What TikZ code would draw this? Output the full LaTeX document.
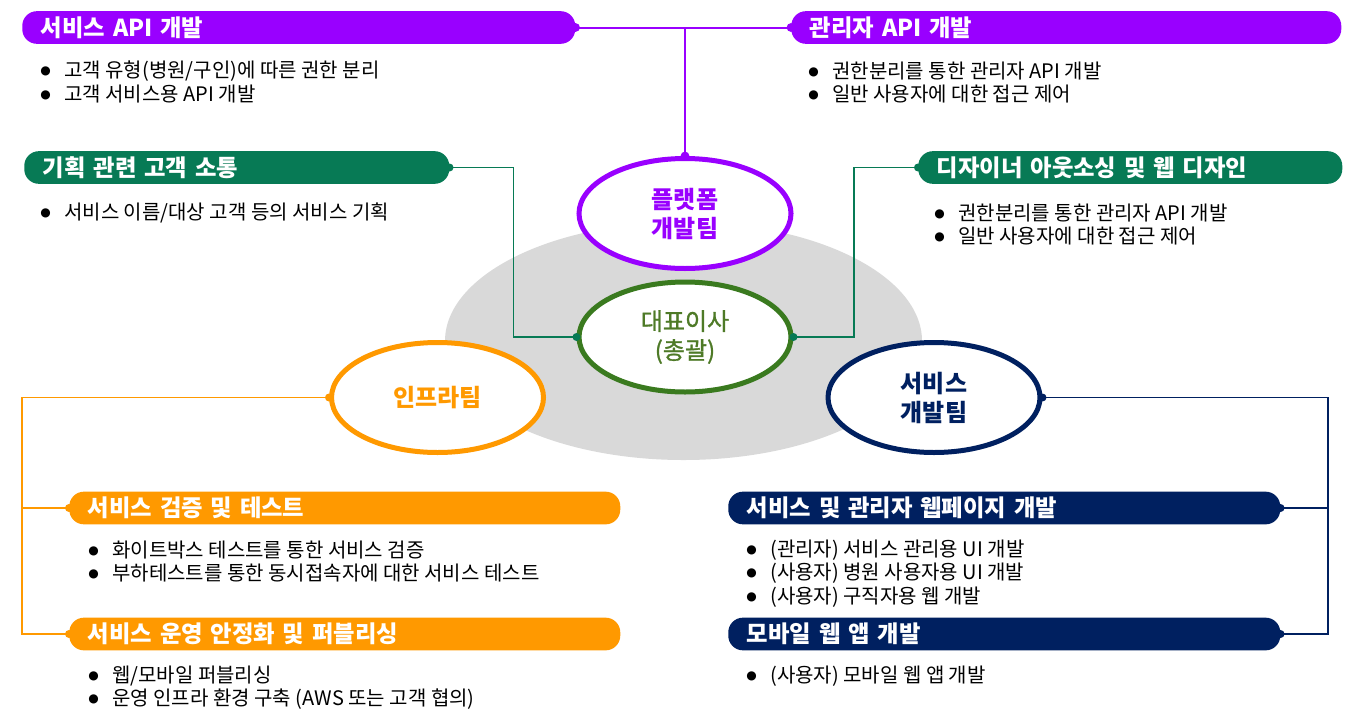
\documentclass[tikz,border=0pt]{standalone}
\usepackage{fontspec}
\setmainfont{Noto Sans CJK KR}
\newfontfamily\bulfont{DejaVu Sans}
\usetikzlibrary{shapes.geometric}
\definecolor{cpurple}{HTML}{9900FF}
\definecolor{cgreen}{HTML}{077A55}
\definecolor{colive}{HTML}{3A7A1F}
\definecolor{colivetext}{HTML}{4E7A27}
\definecolor{corange}{HTML}{FF9900}
\definecolor{cnavy}{HTML}{002060}
\definecolor{cgray}{HTML}{D9D9D9}
\newcommand\bul{\makebox[18pt][l]{\raisebox{2pt}{\bulfont\fontsize{9pt}{9pt}\selectfont ●}}}
\begin{document}
\begin{tikzpicture}[x=0.75pt,y=-0.75pt,
 tbox/.style={rectangle, rounded corners=11pt, minimum height=24.5pt, inner xsep=14pt, inner ysep=0pt, align=left, anchor=west, text=white, font=\fontsize{17.5pt}{19pt}\selectfont\bfseries},
 item/.style={anchor=west, inner sep=0pt, font=\fontsize{15pt}{17pt}\selectfont},
 team/.style={ellipse, draw, line width=3.75pt, fill=white, minimum width=159pt, minimum height=82.5pt, inner sep=0pt, align=center, font=\fontsize{18pt}{21.75pt}\selectfont\bfseries},
 conn/.style={line width=1pt}
]
\useasboundingbox (0,0) rectangle (1358,721);
\fill[white] (0,0) rectangle (1358,721);

% background ellipse
\node[fill=cgray, ellipse, minimum width=357.75pt, minimum height=178.5pt, inner sep=0pt] (bg) at (683.5,341) {};

% title boxes
\node[tbox, fill=cpurple, text width=386.75pt] (svcapi) at (22,27.5) {서비스 API 개발};
\node[tbox, fill=cpurple, text width=384.5pt] (mgrapi) at (791,27.5) {관리자 API 개발};
\node[tbox, fill=cgreen, text width=290.75pt] (plan) at (24,167.5) {기획 관련 고객 소통};
\node[tbox, fill=cgreen, text width=290pt] (design) at (918,167.5) {디자이너 아웃소싱 및 웹 디자인};
\node[tbox, fill=corange, text width=385.25pt] (test) at (69,508) {서비스 검증 및 테스트};
\node[tbox, fill=corange, text width=385.25pt] (ops) at (69,634) {서비스 운영 안정화 및 퍼블리싱};
\node[tbox, fill=cnavy, text width=386pt] (web) at (728,508) {서비스 및 관리자 웹페이지 개발};
\node[tbox, fill=cnavy, text width=386pt] (mob) at (728,634) {모바일 웹 앱 개발};

% team ellipses
\node[team, draw=cpurple, text=cpurple] (platform) at (685,213.5) {플랫폼\\개발팀};
\node[team, draw=colive, text=colivetext, font=\fontsize{18pt}{21.75pt}\selectfont\addfontfeature{FakeBold=1.2}] (ceo) at (685,337) {대표이사\\(총괄)};
\node[team, draw=corange, text=corange] (infra) at (437.5,397.5) {인프라팀};
\node[team, draw=cnavy, text=cnavy] (dev) at (934,397.5) {서비스\\개발팀};

% connectors
\draw[cpurple, line width=1.5pt] (svcapi.east) -- (mgrapi.west);
\draw[cpurple, line width=1.5pt] (platform.north) -- (platform.north |- svcapi.east);
\draw[cgreen, conn] (plan.east) -- ++(64,0) |- (ceo.west);
\draw[cgreen, conn] (design.west) -- ++(-64,0) |- (ceo.east);
\coordinate (oL) at (22,397.5);
\draw[corange, conn] (infra.west) -- (oL) |- (ops.west);
\draw[corange, conn] (oL) |- (test.west);
\coordinate (nR) at (1328,397.5);
\draw[cnavy, conn] (dev.east) -- (nR) |- (mob.east);
\draw[cnavy, conn] (nR) |- (web.east);

% dots
\fill[cpurple] (svcapi.east) circle[radius=3.3pt] (mgrapi.west) circle[radius=3.3pt] (platform.north) circle[radius=3.3pt];
\fill[cgreen] (plan.east) circle[radius=3pt] (design.west) circle[radius=3pt] (ceo.west) circle[radius=3pt] (ceo.east) circle[radius=3pt];
\fill[corange] (infra.west) circle[radius=3pt] (test.west) circle[radius=3pt] (ops.west) circle[radius=3pt];
\fill[cnavy] (dev.east) circle[radius=3pt] (web.east) circle[radius=3pt] (mob.east) circle[radius=3pt];

% bullet items
\node[item] (a1) at (40,71) {\bul 고객 유형(병원/구인)에 따른 권한 분리};
\node[item] (a2) at (40,94) {\bul 고객 서비스용 API 개발};
\node[item] (b1) at (808,71) {\bul 권한분리를 통한 관리자 API 개발};
\node[item] (b2) at (808,94) {\bul 일반 사용자에 대한 접근 제어};
\node[item] (c1) at (40,213) {\bul 서비스 이름/대상 고객 등의 서비스 기획};
\node[item] (d1) at (934,213) {\bul 권한분리를 통한 관리자 API 개발};
\node[item] (d2) at (934,236) {\bul 일반 사용자에 대한 접근 제어};
\node[item] (e1) at (88,550) {\bul 화이트박스 테스트를 통한 서비스 검증};
\node[item] (e2) at (88,573) {\bul 부하테스트를 통한 동시접속자에 대한 서비스 테스트};
\node[item] (f1) at (88,676) {\bul 웹/모바일 퍼블리싱};
\node[item] (f2) at (88,699) {\bul 운영 인프라 환경 구축 (AWS 또는 고객 협의)};
\node[item] (g1) at (746,550) {\bul (관리자) 서비스 관리용 UI 개발};
\node[item] (g2) at (746,573) {\bul (사용자) 병원 사용자용 UI 개발};
\node[item] (g3) at (746,597) {\bul (사용자) 구직자용 웹 개발};
\node[item] (h1) at (746,676) {\bul (사용자) 모바일 웹 앱 개발};
\end{tikzpicture}
\end{document}
